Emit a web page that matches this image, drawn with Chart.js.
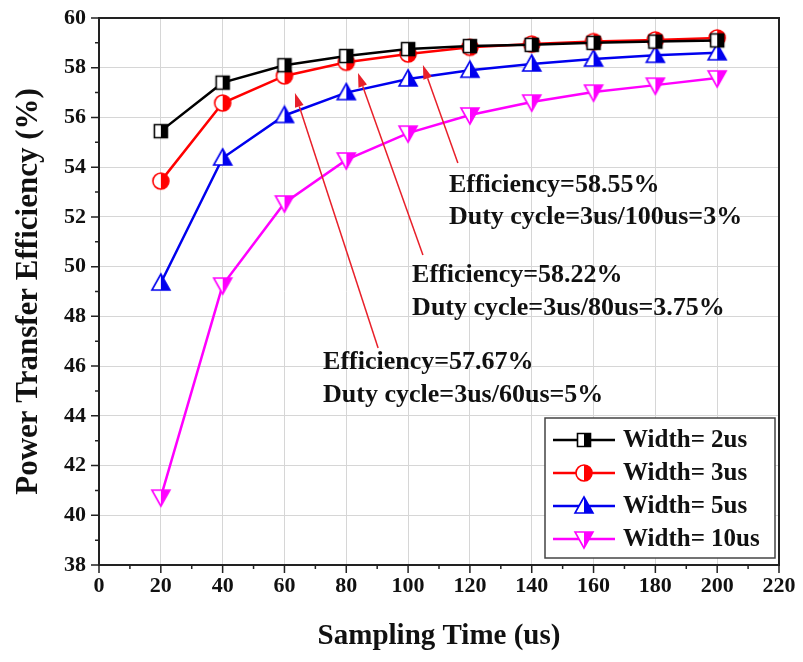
<!DOCTYPE html>
<html>
<head>
<meta charset="utf-8">
<script src="https://cdn.jsdelivr.net/npm/chart.js@4.4.1/dist/chart.umd.min.js"></script>
<style>
  html, body { margin: 0; padding: 0; background: #ffffff; }
  #wrap { width: 803px; height: 662px; }
</style>
</head>
<body>
<div id="wrap"><canvas id="effChart" width="803" height="662"></canvas></div>
<script>
// sampling time (us)
const samplingTimes = [20, 40, 60, 80, 100, 120, 140, 160, 180, 200];

// power transfer efficiency (%) per pulse width
const eff2us  = [55.45, 57.40, 58.10, 58.47, 58.75, 58.87, 58.92, 59.00, 59.05, 59.10];
const eff3us  = [53.44, 56.58, 57.67, 58.22, 58.55, 58.82, 58.95, 59.05, 59.12, 59.20];
const eff5us  = [49.34, 54.37, 56.08, 57.00, 57.55, 57.90, 58.15, 58.35, 58.50, 58.60];
const eff10us = [40.73, 49.26, 52.56, 54.29, 55.37, 56.10, 56.62, 57.02, 57.30, 57.59];

const seriesNames = ['Width= 2us', 'Width= 3us', 'Width= 5us', 'Width= 10us'];

// annotation texts, anchored in data space
const noteLines = [
  ['Efficiency=58.55%', 'Duty cycle=3us/100us=3%'],
  ['Efficiency=58.22%', 'Duty cycle=3us/80us=3.75%'],
  ['Efficiency=57.67%', 'Duty cycle=3us/60us=5%']
];
const noteTextPos = [[113.2, 53.28, 51.99], [101.3, 49.66, 48.33], [72.5, 46.16, 44.83]];
const arrowFrom = [[116.1, 54.17], [104.8, 50.47], [90.3, 46.73]];
const arrowTo   = [[104.8, 58.11], [83.8, 57.79], [63.4, 56.98]];

const FONT = '"Liberation Serif", "Times New Roman", serif';

function makeMarker(shape, color) {
  const c = document.createElement('canvas');
  c.width = 22; c.height = 22;
  const g = c.getContext('2d');
  const path = () => {
    g.beginPath();
    if (shape === 'square') {
      g.rect(4.5, 4.5, 13, 13);
    } else if (shape === 'circle') {
      g.arc(11, 11, 8, 0, Math.PI * 2);
    } else if (shape === 'up') {
      g.moveTo(11, 2); g.lineTo(20, 18); g.lineTo(2, 18); g.closePath();
    } else {
      g.moveTo(2, 4); g.lineTo(20, 4); g.lineTo(11, 20); g.closePath();
    }
  };
  path();
  g.fillStyle = '#ffffff';
  g.fill();
  g.save();
  g.beginPath();
  g.rect(11, 0, 11, 22);
  g.clip();
  path();
  g.fillStyle = color;
  g.fill();
  g.restore();
  path();
  g.lineWidth = 1.6;
  g.strokeStyle = color;
  g.stroke();
  return c;
}

const colors = ['#000000', '#ff0000', '#0000ee', '#ff00ff'];
const markers = [
  makeMarker('square', colors[0]),
  makeMarker('circle', colors[1]),
  makeMarker('up', colors[2]),
  makeMarker('down', colors[3])
];
const allSeries = [eff2us, eff3us, eff5us, eff10us];

const datasets = allSeries.map((vals, i) => ({
  label: seriesNames[i],
  data: vals.map((v, k) => ({ x: samplingTimes[k], y: v })),
  borderColor: colors[i],
  backgroundColor: colors[i],
  borderWidth: 2.5,
  pointStyle: markers[i],
  pointRadius: 8,
  tension: 0
}));

function drawArrow(ctx, x1, y1, x2, y2) {
  const ang = Math.atan2(y2 - y1, x2 - x1);
  const head = 14, wing = 4.5;
  const bx = x2 - head * Math.cos(ang), by = y2 - head * Math.sin(ang);
  ctx.beginPath();
  ctx.moveTo(x1, y1);
  ctx.lineTo(bx, by);
  ctx.stroke();
  ctx.beginPath();
  ctx.moveTo(x2, y2);
  ctx.lineTo(bx + wing * Math.sin(ang), by - wing * Math.cos(ang));
  ctx.lineTo(bx - wing * Math.sin(ang), by + wing * Math.cos(ang));
  ctx.closePath();
  ctx.fill();
}

const extras = {
  id: 'extras',
  afterDraw(chart) {
    const ctx = chart.ctx;
    const xs = chart.scales.x, ys = chart.scales.y;
    const a = chart.chartArea;
    ctx.save();

    // frame
    ctx.strokeStyle = '#222222';
    ctx.lineWidth = 2;
    ctx.strokeRect(a.left, a.top, a.right - a.left, a.bottom - a.top);

    // outside ticks
    ctx.lineWidth = 1.5;
    ctx.beginPath();
    for (let v = 0; v <= 220; v += 10) {
      const px = xs.getPixelForValue(v);
      ctx.moveTo(px, a.bottom);
      ctx.lineTo(px, a.bottom + (v % 20 === 0 ? 8 : 4));
    }
    for (let v = 38; v <= 60; v += 1) {
      const py = ys.getPixelForValue(v);
      ctx.moveTo(a.left, py);
      ctx.lineTo(a.left - (v % 2 === 0 ? 8 : 4), py);
    }
    ctx.stroke();

    // arrows
    ctx.strokeStyle = '#e8202a';
    ctx.fillStyle = '#e8202a';
    ctx.lineWidth = 1.5;
    for (let i = 0; i < arrowFrom.length; i++) {
      drawArrow(ctx,
        xs.getPixelForValue(arrowFrom[i][0]), ys.getPixelForValue(arrowFrom[i][1]),
        xs.getPixelForValue(arrowTo[i][0]), ys.getPixelForValue(arrowTo[i][1]));
    }

    // annotation text
    ctx.fillStyle = '#111111';
    ctx.font = 'bold 26px ' + FONT;
    ctx.textAlign = 'left';
    ctx.textBaseline = 'middle';
    for (let i = 0; i < noteLines.length; i++) {
      const px = xs.getPixelForValue(noteTextPos[i][0]);
      ctx.fillText(noteLines[i][0], px, ys.getPixelForValue(noteTextPos[i][1]));
      ctx.fillText(noteLines[i][1], px, ys.getPixelForValue(noteTextPos[i][2]));
    }

    // legend box
    const bw = 230, bh = 140;
    const bx = a.right - 4 - bw, by = a.bottom - 7 - bh;
    ctx.fillStyle = '#ffffff';
    ctx.fillRect(bx, by, bw, bh);
    ctx.strokeStyle = '#444444';
    ctx.lineWidth = 1.5;
    ctx.strokeRect(bx, by, bw, bh);
    ctx.font = 'bold 25px ' + FONT;
    for (let i = 0; i < seriesNames.length; i++) {
      const cy = by + 22 + i * 33;
      ctx.strokeStyle = colors[i];
      ctx.lineWidth = 2.5;
      ctx.beginPath();
      ctx.moveTo(bx + 8, cy);
      ctx.lineTo(bx + 70, cy);
      ctx.stroke();
      ctx.drawImage(markers[i], bx + 39 - 11, cy - 11);
      ctx.fillStyle = '#111111';
      ctx.fillText(seriesNames[i], bx + 78, cy + 1);
    }
    ctx.restore();
  }
};

new Chart(document.getElementById('effChart').getContext('2d'), {
  type: 'line',
  data: { datasets: datasets },
  options: {
    responsive: false,
    animation: false,
    layout: { padding: { top: 18, right: 24, left: 0, bottom: 0 } },
    plugins: {
      legend: { display: false },
      tooltip: { enabled: false }
    },
    scales: {
      x: {
        type: 'linear',
        min: 0,
        max: 220,
        afterFit: (scale) => {
          scale.height = 97;
          scale.paddingLeft = 0;
          scale.paddingRight = 0;
        },
        grid: {
          drawTicks: false,
          color: (c) => (c.tick && c.tick.value % 20 === 0) ? '#d6d6d6' : 'rgba(0,0,0,0)',
          lineWidth: 1
        },
        border: { display: false },
        ticks: {
          stepSize: 10,
          autoSkip: false,
          maxRotation: 0,
          padding: 8,
          color: '#111111',
          font: { family: FONT, size: 22, weight: 'bold' },
          callback: (v) => (v % 20 === 0 ? String(v) : '')
        },
        title: {
          display: true,
          text: 'Sampling Time (us)',
          color: '#111111',
          font: { family: FONT, size: 29, weight: 'bold' },
          padding: { top: 0, bottom: 8 }
        }
      },
      y: {
        min: 38,
        max: 60,
        afterFit: (scale) => {
          scale.width = 99;
          scale.paddingTop = 0;
          scale.paddingBottom = 0;
        },
        grid: {
          drawTicks: false,
          color: (c) => (c.tick && c.tick.value % 2 === 0) ? '#d6d6d6' : 'rgba(0,0,0,0)',
          lineWidth: 1
        },
        border: { display: false },
        ticks: {
          stepSize: 1,
          autoSkip: false,
          padding: 13,
          color: '#111111',
          font: { family: FONT, size: 22, weight: 'bold' },
          callback: (v) => (v % 2 === 0 ? String(v) : '')
        },
        title: {
          display: true,
          text: 'Power Transfer Efficiency (%)',
          color: '#111111',
          font: { family: FONT, size: 31, weight: 'bold' },
          padding: { top: 10, bottom: 0 }
        }
      }
    }
  },
  plugins: [extras]
});
</script>
</body>
</html>
